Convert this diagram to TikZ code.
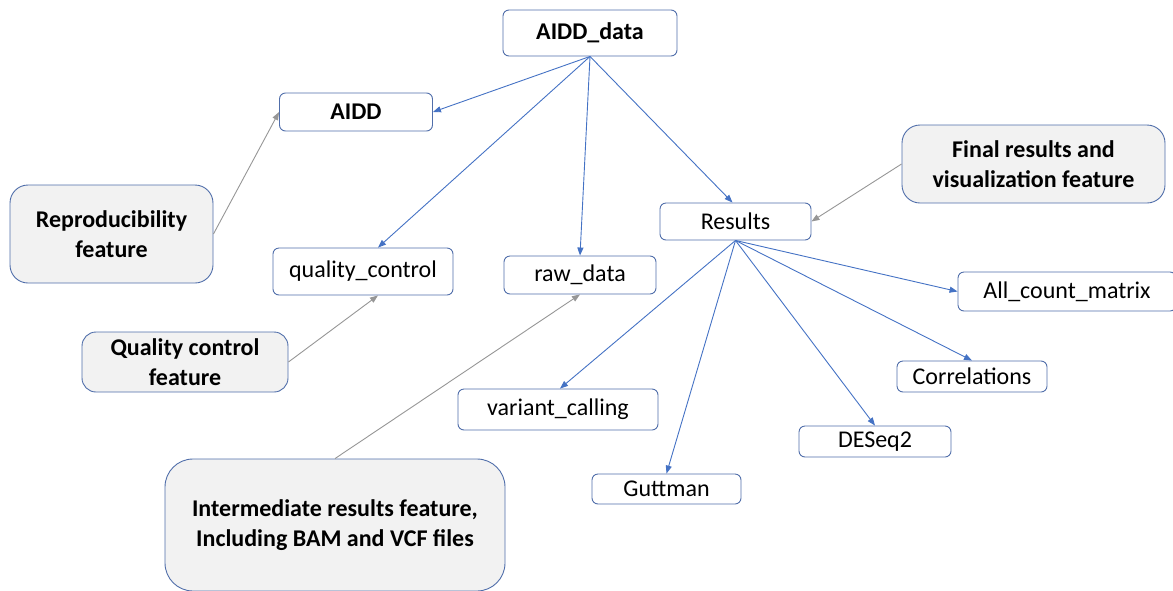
\documentclass[tikz,border=0pt]{standalone}
\usepackage{fontspec}
\setmainfont{Carlito}
\usetikzlibrary{arrows.meta}

\definecolor{linkblue}{RGB}{68,114,196}
\definecolor{boxline}{RGB}{80,110,170}
\definecolor{featfill}{RGB}{242,242,242}
\definecolor{hintgray}{RGB}{150,150,150}

\tikzstyle{every node}=[font=\fontsize{24}{30}\selectfont]
\tikzstyle{leaf} = [rectangle,rounded corners=6pt,draw=boxline,line width=0.9pt,fill=white]
\tikzstyle{feature} = [rectangle,rounded corners=18pt,draw=boxline,line width=0.9pt,fill=featfill,align=center,font=\fontsize{24}{30}\selectfont\bfseries]
\tikzstyle{link} = [draw=linkblue,line width=0.9pt,-{Triangle[length=8pt,width=6pt]}]
\tikzstyle{hint} = [draw=hintgray,line width=0.9pt,-{Triangle[length=8pt,width=6pt]}]

\begin{document}
\begin{tikzpicture}[x=1pt,y=-1pt]
	\useasboundingbox (0,0) rectangle (1173,590);
	% folder tree
	\node[leaf,minimum width=174pt,minimum height=46pt,font=\fontsize{24}{30}\selectfont\bfseries] (data) at (590,33) {AIDD\_data};
	\node[leaf,minimum width=153pt,minimum height=38pt,font=\fontsize{24}{30}\selectfont\bfseries] (aidd) at (356,112) {AIDD};
	\node[leaf,minimum width=180pt,minimum height=47pt] (qc) at (363,271.5) {quality\_control};
	\node[leaf,minimum width=152pt,minimum height=38pt] (raw) at (580,275) {raw\_data};
	\node[leaf,minimum width=151pt,minimum height=37pt] (res) at (735.5,221.5) {Results};
	\node[leaf,minimum width=218pt,minimum height=39pt] (allcount) at (1067,291.5) {All\_count\_matrix};
	\node[leaf,minimum width=150pt,minimum height=31pt] (corr) at (972,376.5) {Correlations};
	\node[leaf,minimum width=200pt,minimum height=41pt] (vc) at (558,409.5) {variant\_calling};
	\node[leaf,minimum width=152pt,minimum height=31pt] (deseq) at (875,441.5) {DESeq2};
	\node[leaf,minimum width=149pt,minimum height=30pt] (gutt) at (666.5,489) {Guttman};
	% features
	\node[feature,minimum width=203pt,minimum height=98pt] (repro) at (111.5,234) {Reproducibility\\feature};
	\node[feature,minimum width=206pt,minimum height=60pt,rounded corners=14pt] (qcfeat) at (185,362) {Quality control\\feature};
	\node[feature,minimum width=263pt,minimum height=78pt] (final) at (1033.5,164) {Final results and\\visualization feature};
	\node[feature,minimum width=340pt,minimum height=132pt,rounded corners=28pt] (inter) at (335,525) {Intermediate results feature,\\Including BAM and VCF files};
	% links
	\draw[link] (data.south) -- (aidd.east);
	\draw[link] (data.south) -- ([xshift=15pt]qc.north);
	\draw[link] (data.south) -- (raw.north);
	\draw[link] (data.south) -- ([xshift=-3pt]res.north);
	\draw[link] (res.south) -- (allcount.west);
	\draw[link] (res.south) -- (corr.north);
	\draw[link] (res.south) -- (deseq.north);
	\draw[link] (res.south) -- (gutt.north);
	\draw[link] (res.south) -- ([xshift=2pt]vc.north);
	\draw[hint] (repro.east) -- (aidd.west);
	\draw[hint] (final.west) -- (res.east);
	\draw[hint] (qcfeat.east) -- ([xshift=15pt]qc.south);
	\draw[hint] (inter.north) -- (raw.south);
\end{tikzpicture}
\end{document}
